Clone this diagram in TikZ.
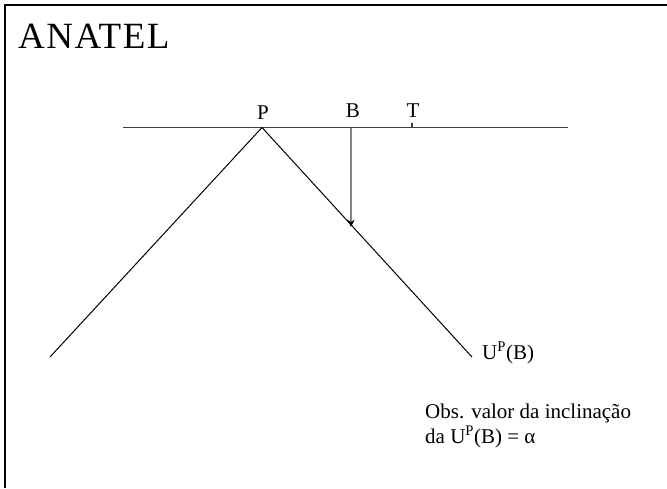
\documentclass[tikz,border=0pt]{standalone}
\usepackage{fontspec}
\setmainfont{Liberation Serif}
\usetikzlibrary{arrows.meta, calc}

\begin{document}
\begin{tikzpicture}[x=1pt, y=-1pt, >={Stealth[length=7pt, width=7pt, color=black]}, every node/.style={font=\fontsize{21}{25}\selectfont, inner sep=0pt}]
  \useasboundingbox (0,0) rectangle (667,488);
  \draw[line width=2pt] (5,488) -- (5,5) -- (667,5);
  \node[anchor=base west, font=\fontsize{37}{40}\selectfont\addfontfeature{LetterSpace=4}] (title) at (18,48) {ANATEL};
  \coordinate (lineL) at (123,127.5);
  \coordinate (lineR) at (568,127.5);
  \coordinate (apex) at (262,127.5);
  \coordinate (endL) at (50,357);
  \coordinate (endR) at (472,357);
  \coordinate (bpt) at (351,127.5);
  \coordinate (bdown) at (351,300);
  \coordinate (tpt) at (412,127.5);
  \coordinate (foot) at ($(intersection of apex--endR and bpt--bdown)+(0,2)$);
  \draw[black!75, line width=1.3pt] (lineL) -- (lineR);
  \draw[line width=1pt] (endL) -- (apex) -- (endR);
  \draw[black!75, line width=1.3pt] (tpt) -- ($(tpt)+(0,-5)$);
  \draw[->, black!75, line width=1.3pt] (bpt) -- (foot);
  \node[anchor=base] (labelP) at (263,119) {P};
  \node[anchor=base] (labelB) at (353,117) {B};
  \node[anchor=base] (labelT) at (413,117) {T};
  \node[anchor=base west] (curve) at (482,359) {U\textsuperscript{P}(B)};
  \node[anchor=base west, align=left] (note) at (425,443) {Obs. valor da inclinação\\da U\textsuperscript{P}(B) = α};
\end{tikzpicture}
\end{document}
